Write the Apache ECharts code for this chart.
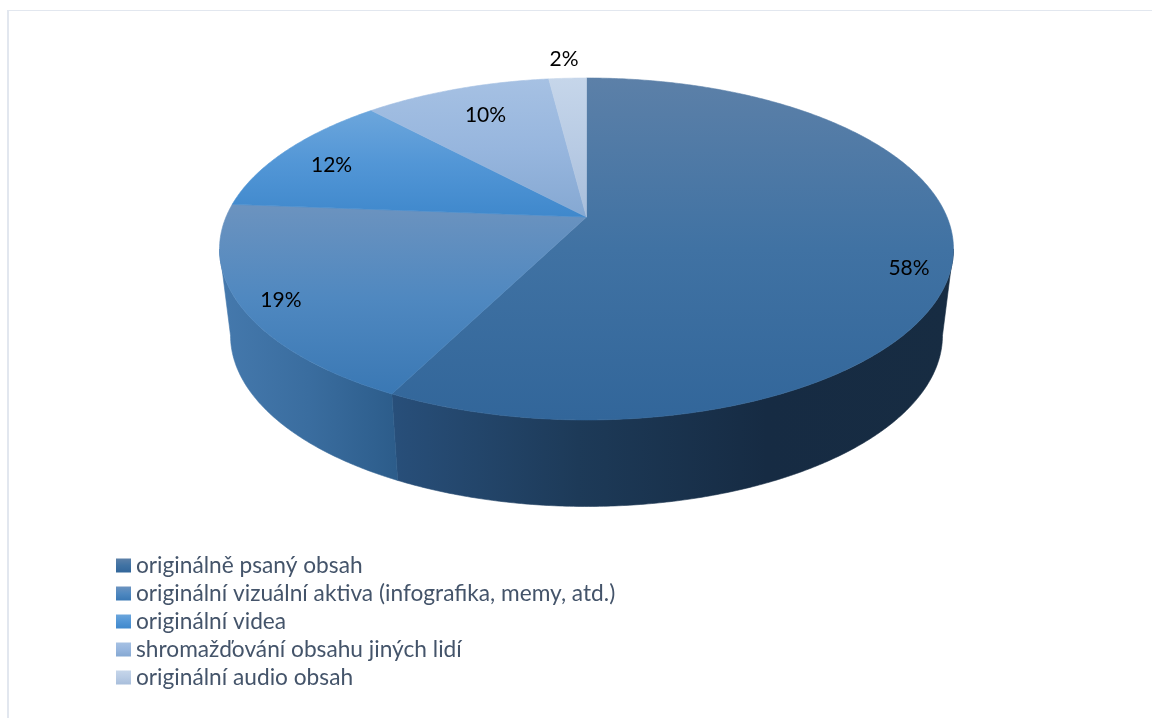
<!DOCTYPE html>
<html>
<head>
<meta charset="utf-8">
<style>html,body{margin:0;padding:0;background:#fff}#chart{width:1152px;height:718px}</style>
<script src="https://cdn.jsdelivr.net/npm/echarts@6/dist/echarts.min.js"></script>
</head>
<body>
<div id="chart"></div>
<script>
// Share of content types, in percent as printed on the slices.
const categories = [
  'originálně psaný obsah',
  'originální vizuální aktiva (infografika, memy, atd.)',
  'originální videa',
  'shromažďování obsahu jiných lidí',
  'originální audio obsah'
];
const shares = [58, 19, 12, 10, 2];

// Vertical colour ramps of the top faces.
const topRamps = [
  ['#5c80a8', '#4072a3', '#32669a'],
  ['#6c93bf', '#4f88c0', '#3a78b4'],
  ['#6ca6dc', '#5296d6', '#3f88cc'],
  ['#a6c1e3', '#97b6de', '#85a8d2'],
  ['#c6d6ea', '#b8cbe4', '#a8bedb']
];
// Horizontal colour ramps of the visible side walls, left to right.
const wallRamps = [
  ['#284f7a', '#1d3a58', '#162b43', '#172c42'],
  ['#4579ad', '#3a6d9f', '#2c5c8a'],
  null, null, null
];
const labelNudges = [[13, 18], [-16, 9], [3, 5], [12, 9], [-6, -37]];

// Perspective disc: apex position, radii and foreshortening of the pie.
const disc = { cx: 586.5, cy: 217, a: 360.5, b: 165, k: 0.187, depth: 86.5, lowerScale: 0.97 };
const total = shares.reduce((s, v) => s + v, 0);
const deg = Math.PI / 180;

function project(thetaDeg, r, lower) {
  const u = r * Math.sin(thetaDeg * deg);
  const v = -r * Math.cos(thetaDeg * deg);
  const w = 1 - disc.k * v;
  const sx = lower ? disc.lowerScale : 1;
  return [disc.cx + sx * disc.a * u / w, disc.cy + (lower ? disc.depth : 0) + disc.b * v / w];
}
function arc(from, to, lower) {
  const pts = [];
  const n = Math.max(2, Math.ceil(Math.abs(to - from) * 2));
  for (let i = 0; i <= n; i++) pts.push(project(from + (to - from) * i / n, 1, lower));
  return pts;
}
function ramp(stops, x2, y2) {
  return new echarts.graphic.LinearGradient(0, 0, x2, y2,
    stops.map((color, i) => ({ offset: i / (stops.length - 1), color })));
}

// The outline is widest where v equals k; the wall shows between those two angles.
const wallFrom = Math.acos(-disc.k) / deg;
const wallTo = 360 - wallFrom;

function renderSlice(index) {
  return function (params, api) {
    const before = shares.slice(0, index).reduce((s, v) => s + v, 0);
    const start = before / total * 360;
    const end = start + api.value(0) / total * 360;
    const children = [];
    const wStart = Math.max(start, wallFrom);
    const wEnd = Math.min(end, wallTo);
    if (wallRamps[index] && wEnd > wStart) {
      const pts = arc(wStart, wEnd, false).concat(arc(wEnd, wStart, true));
      const wallFill = ramp(wallRamps[index], 1, 0);
      children.push({ type: 'polygon', shape: { points: pts },
        style: { fill: wallFill, stroke: wallFill, lineWidth: 0.6 } });
    }
    const topFill = ramp(topRamps[index], 0, 1);
    children.push({ type: 'polygon',
      shape: { points: [[disc.cx, disc.cy]].concat(arc(start, end, false)) },
      style: { fill: topFill, stroke: topFill, lineWidth: 0.6 } });
    const mid = project((start + end) / 2, 0.85, false);
    children.push({ type: 'text', z2: 10,
      style: { x: mid[0] + labelNudges[index][0], y: mid[1] + labelNudges[index][1],
        text: api.value(0) + '%', fill: '#000', align: 'center', verticalAlign: 'middle',
        font: '21px Lato' } });
    return { type: 'group', children };
  };
}

const chart = echarts.init(document.getElementById('chart'), null, { renderer: 'canvas' });
chart.setOption({
  animation: false,
  backgroundColor: '#fff',
  graphic: [
    { type: 'rect', shape: { x: 7, y: 10, width: 2, height: 708 }, style: { fill: '#e2e7ef' }, silent: true },
    { type: 'rect', shape: { x: 7, y: 10, width: 1145, height: 1 }, style: { fill: '#e2e7ef' }, silent: true }
  ],
  legend: {
    orient: 'vertical', left: 116, top: 554, icon: 'rect', selectedMode: false,
    itemWidth: 15, itemHeight: 14, itemGap: 5, padding: 0,
    textStyle: { fontFamily: 'Lato', fontSize: 22.7, color: '#44546a' },
    data: categories
  },
  series: categories.map((name, i) => ({
    type: 'custom', name, coordinateSystem: 'none', silent: true,
    itemStyle: { color: ramp(topRamps[i], 0, 1) },
    renderItem: renderSlice(i),
    data: [[shares[i]]]
  }))
});
</script>
</body>
</html>
